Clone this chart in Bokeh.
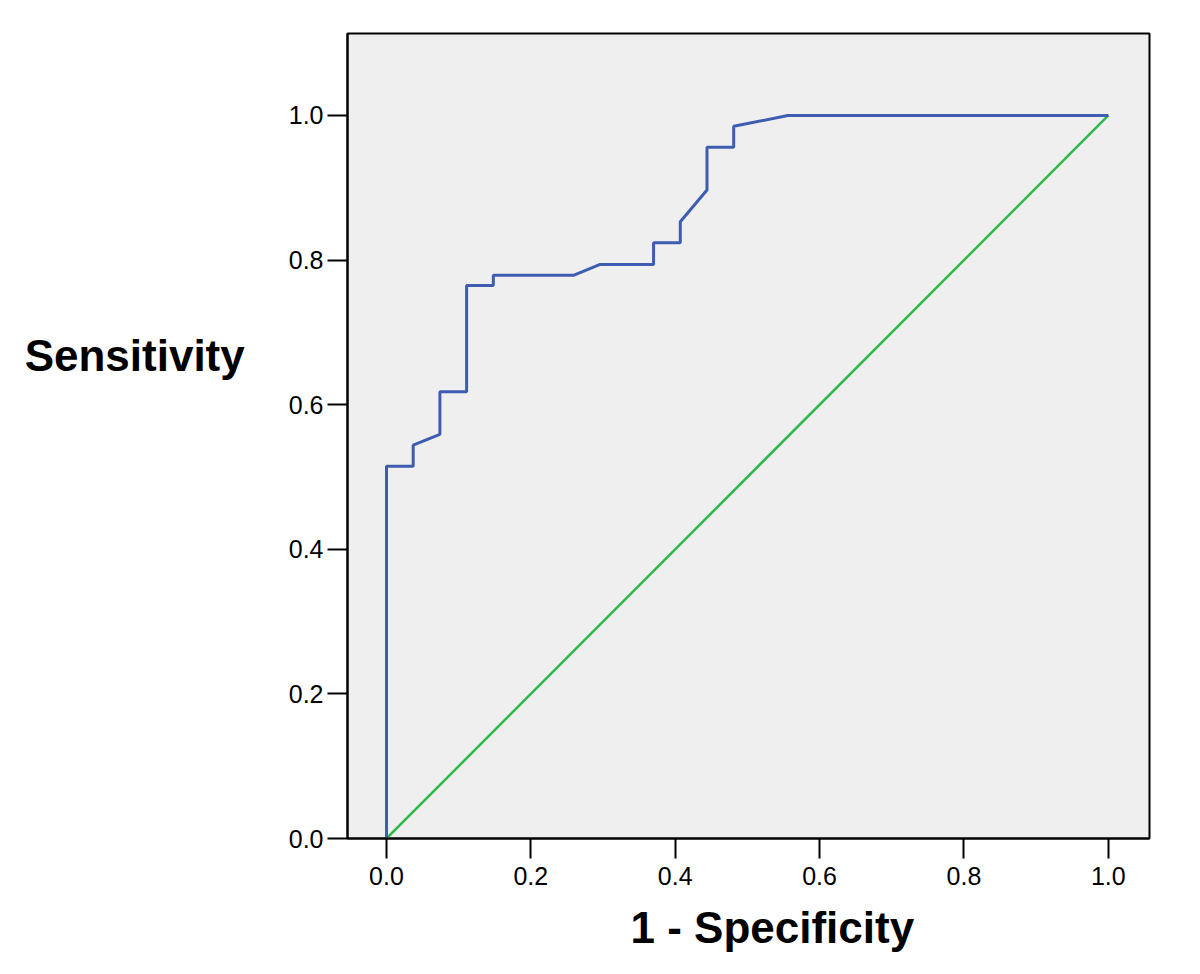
from bokeh.plotting import figure
from bokeh.models import Range1d, Title, FixedTicker
from bokeh.embed import file_html
from bokeh.resources import INLINE

# ROC curve (1 - specificity, sensitivity)
fpr = [0.0, 0.0, 0.037, 0.037, 0.074, 0.074, 0.111, 0.111, 0.148, 0.148, 0.259,
       0.296, 0.370, 0.370, 0.407, 0.407, 0.444, 0.444, 0.481, 0.481, 0.556, 1.0]
tpr = [0.0, 0.515, 0.515, 0.544, 0.559, 0.618, 0.618, 0.765, 0.765, 0.779, 0.779,
       0.794, 0.794, 0.824, 0.824, 0.853, 0.897, 0.956, 0.956, 0.985, 1.0, 1.0]
ref_x = [0.0, 1.0]
ref_y = [0.0, 1.0]
ticks = [0.0, 0.2, 0.4, 0.6, 0.8, 1.0]

W, H = 1190, 966
p = figure(width=W, height=H, output_backend="svg", toolbar_location=None,
           x_range=Range1d(-0.054, 1.057), y_range=Range1d(0.0, 1.1134),
           min_border_left=347, min_border_right=W - 1149, min_border_top=33,
           min_border_bottom=H - 838)
p.background_fill_color = "#efefef"
p.border_fill_color = "white"
p.outline_line_color = "black"
p.outline_line_width = 2
p.grid.visible = False

for ax in (p.xaxis, p.yaxis):
    ax.ticker = FixedTicker(ticks=ticks)
    ax.axis_line_color = "black"
    ax.axis_line_width = 2
    ax.major_tick_line_color = "black"
    ax.major_tick_line_width = 2
    ax.major_tick_out = 20
    ax.major_tick_in = 0
    ax.minor_tick_line_color = None
    ax.major_label_text_font = "Liberation Sans"
    ax.major_label_text_font_size = "25px"
    ax.major_label_text_color = "black"
p.xaxis.major_label_standoff = 8
p.yaxis.major_label_standoff = 4
p.xaxis.major_label_overrides = {0: "0.0", 1: "1.0"}
p.yaxis.major_label_overrides = {0: "0.0", 1: "1.0"}

p.yaxis.axis_label = "Sensitivity\n \n \n "
p.yaxis.axis_label_orientation = "horizontal"
p.yaxis.axis_label_text_font = "Liberation Sans"
p.yaxis.axis_label_text_font_style = "bold"
p.yaxis.axis_label_text_font_size = "44px"
p.yaxis.axis_label_text_color = "black"
p.yaxis.axis_label_text_line_height = 1.1
p.yaxis.axis_label_standoff = 41

p.add_layout(Title(text="1 - Specificity", align="left", offset=283,
                   text_font="Liberation Sans", text_font_style="bold",
                   text_font_size="44px", text_color="black", standoff=26), "below")

p.line(ref_x, ref_y, line_color="#2fb84a", line_width=2.5)
p.line(fpr, tpr, line_color="#3f5cb3", line_width=3)

open("out.html", "w").write(file_html(p, INLINE))
